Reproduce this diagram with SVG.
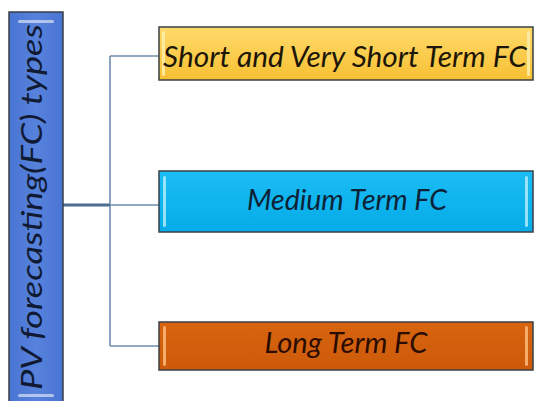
<svg xmlns="http://www.w3.org/2000/svg" width="534" height="401" viewBox="0 0 534 401">
<defs>
<linearGradient id="gGold" x1="0" y1="0" x2="0" y2="1"><stop offset="0" stop-color="#FFDA6A"/><stop offset="1" stop-color="#F7C033"/></linearGradient>
<linearGradient id="gBlue" x1="0" y1="0" x2="0" y2="1"><stop offset="0" stop-color="#1BBDF3"/><stop offset="1" stop-color="#05ABE8"/></linearGradient>
<linearGradient id="gOrange" x1="0" y1="0" x2="0" y2="1"><stop offset="0" stop-color="#D8640F"/><stop offset="1" stop-color="#CC5A0A"/></linearGradient>
<linearGradient id="gLeft" x1="0" y1="0" x2="1" y2="0"><stop offset="0" stop-color="#4A74D2"/><stop offset="0.5" stop-color="#5682DC"/><stop offset="1" stop-color="#4A74D2"/></linearGradient>
</defs>
<style>
.box{stroke:#3a3f48;stroke-width:1.5}
.lbl{font-family:Lato,"Open Sans","Liberation Sans",sans-serif;font-style:italic;font-size:28px;text-anchor:middle}
.conn{fill:none;stroke:#6E8DB0;stroke-width:1.6}
.hl{fill:#ffffff;opacity:0.55}
</style>
<rect width="534" height="401" fill="#ffffff"/>
<g id="connectors">
<path class="conn" d="M110,56 V346 M110,56 H160 M110,205 H160 M110,346 H160"/>
<path d="M63,205 H110" stroke="#4F6D8F" stroke-width="3" fill="none"/>
</g>
<g id="root">
<rect class="box" x="9" y="12" width="54" height="395" fill="url(#gLeft)"/>
<rect class="hl" x="18" y="20" width="36" height="3" rx="1.5" opacity="0.8"/>
<rect class="hl" x="18" y="394" width="36" height="3" rx="1.5" opacity="0.8"/>
<text class="lbl" transform="translate(42,207) rotate(-90)" font-size="30" fill="#111a33" textLength="366" lengthAdjust="spacingAndGlyphs">PV forecasting(FC) types</text>
</g>
<g id="short">
<rect class="box" x="159" y="27" width="374" height="53" fill="url(#gGold)"/>
<rect x="162" y="31" width="3" height="45" rx="1.5" fill="#FFF0B0" opacity="0.8"/>
<rect x="527" y="31" width="3" height="45" rx="1.5" fill="#FFF0B0" opacity="0.8"/>
<text class="lbl" x="345" y="67" fill="#1c1608" textLength="364" lengthAdjust="spacingAndGlyphs">Short and Very Short Term FC</text>
</g>
<g id="medium">
<rect class="box" x="159" y="171" width="374" height="61" fill="url(#gBlue)"/>
<rect x="163" y="176" width="3" height="51" rx="1.5" fill="#B8F0FF" opacity="0.8"/>
<rect x="525" y="176" width="3" height="51" rx="1.5" fill="#B8F0FF" opacity="0.8"/>
<text class="lbl" x="347" y="210" fill="#0d2236" textLength="200" lengthAdjust="spacingAndGlyphs">Medium Term FC</text>
</g>
<g id="long">
<rect class="box" x="159" y="322" width="374" height="48" fill="url(#gOrange)"/>
<rect x="163" y="326" width="3" height="40" rx="1.5" fill="#FFC080" opacity="0.8"/>
<rect x="525" y="326" width="3" height="40" rx="1.5" fill="#FFC080" opacity="0.8"/>
<text class="lbl" x="346" y="353" fill="#2a0c02" textLength="163" lengthAdjust="spacingAndGlyphs">Long Term FC</text>
</g>
</svg>
